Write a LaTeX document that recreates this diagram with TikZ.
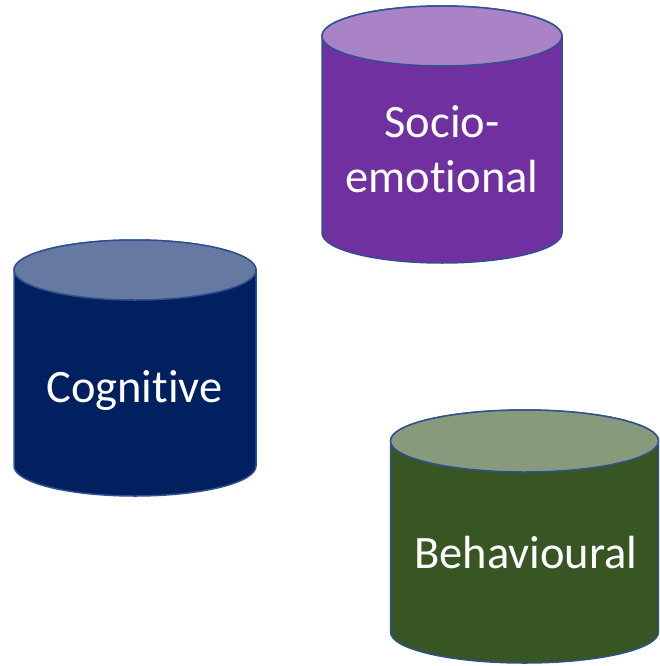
\documentclass[tikz,border=0pt]{standalone}
\usepackage{fontspec}
\setmainfont[Ligatures=NoCommon]{Carlito}
\definecolor{edgeblue}{HTML}{2F528F}
\definecolor{purplebody}{HTML}{7030A0}
\definecolor{purpletop}{HTML}{A983C6}
\definecolor{navybody}{HTML}{002060}
\definecolor{navytop}{HTML}{6679A0}
\definecolor{greenbody}{HTML}{375623}
\definecolor{greentop}{HTML}{879A7B}
\tikzset{
  cyledge/.style={draw=edgeblue, line width=1.5pt, line join=round},
  cyllabel/.style={text=white, font=\fontsize{46.5}{55}\selectfont, inner sep=0pt, align=center},
}
% #1 cx, #2 rx, #3 top cy, #4 bottom cy, #5 ry, #6 body colour, #7 top colour
\newcommand{\mycyl}[7]{%
  \draw[cyledge, fill=#6] (#1-#2,-#3) -- (#1-#2,-#4)
    arc[start angle=180, end angle=360, x radius=#2, y radius=#5]
    -- (#1+#2,-#3)
    arc[start angle=0, end angle=180, x radius=#2, y radius=#5] -- cycle;
  \draw[cyledge, fill=#7] (#1,-#3) ellipse[x radius=#2, y radius=#5];
}
\begin{document}
\begin{tikzpicture}[x=1pt, y=1pt]
\useasboundingbox (0,0) rectangle (659,-666);
\begin{scope}
\clip (0,0) rectangle (659,-666);
\mycyl{442}{120}{36}{233}{30}{purplebody}{purpletop}
\mycyl{135}{121}{270}{466}{30}{navybody}{navytop}
\mycyl{524.5}{134}{441}{632}{31}{greenbody}{greentop}
\end{scope}
\node[cyllabel, anchor=base] (socio) at (442,-192) {Socio-\\emotional};
\node[cyllabel, anchor=base] (cognitive) at (134.5,-402) {Cognitive};
\node[cyllabel, anchor=base] (behavioural) at (526,-568) {Behavioural};
\end{tikzpicture}
\end{document}
